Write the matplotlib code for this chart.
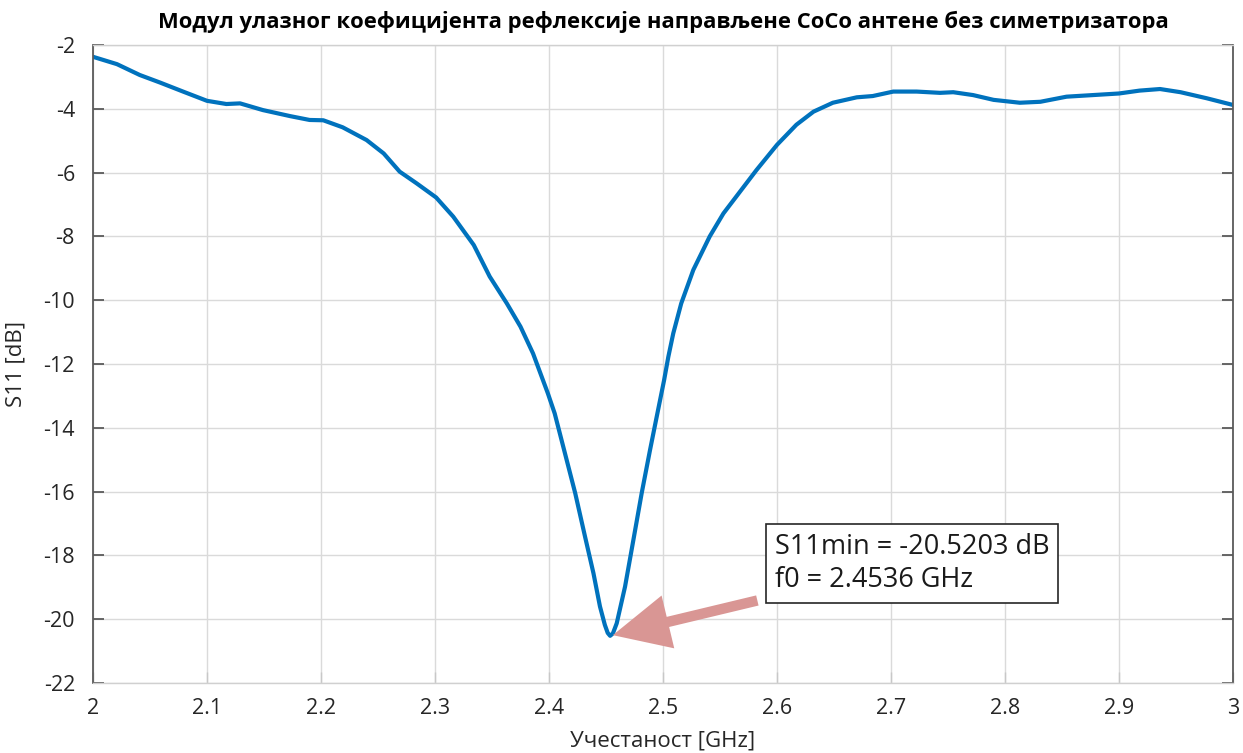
import matplotlib
matplotlib.use("Agg")
import matplotlib.pyplot as plt
import numpy as np

plt.rcParams['font.family'] = ['Open Sans', 'DejaVu Sans']
plt.rcParams['axes.unicode_minus'] = False

# measured S11 of the CoCo antenna (no balun)
freq = [2.000, 2.021, 2.041, 2.059, 2.079, 2.100, 2.117, 2.129, 2.149, 2.173,
        2.190, 2.202, 2.219, 2.240, 2.255, 2.269, 2.284, 2.301, 2.316, 2.334,
        2.348, 2.363, 2.375, 2.386, 2.399, 2.405, 2.414, 2.423, 2.4316, 2.439,
        2.4447, 2.449, 2.4515, 2.4536, 2.456, 2.4594, 2.4667, 2.474, 2.4813, 2.4886,
        2.4945, 2.501, 2.5047, 2.509, 2.516, 2.5266, 2.541, 2.553, 2.5675, 2.582,
        2.600, 2.617, 2.632, 2.649, 2.670, 2.684, 2.702, 2.7225, 2.743, 2.7546,
        2.772, 2.790, 2.813, 2.831, 2.854, 2.877, 2.900, 2.918, 2.936, 2.954,
        2.977, 3.000]
s11 = [-2.37, -2.60, -2.94, -3.18, -3.46, -3.75, -3.85, -3.83, -4.04, -4.23,
       -4.35, -4.36, -4.58, -4.98, -5.40, -5.97, -6.34, -6.78, -7.38, -8.27,
       -9.26, -10.10, -10.83, -11.67, -12.92, -13.55, -14.80, -16.05, -17.41, -18.56,
       -19.60, -20.18, -20.43, -20.5203, -20.45, -20.13, -18.98, -17.52, -16.05, -14.70,
       -13.65, -12.50, -11.77, -11.04, -10.10, -9.05, -8.00, -7.28, -6.60, -5.92,
       -5.13, -4.50, -4.09, -3.81, -3.64, -3.60, -3.46, -3.46, -3.50, -3.48,
       -3.57, -3.72, -3.81, -3.78, -3.62, -3.57, -3.52, -3.43, -3.38, -3.48,
       -3.67, -3.88]

xticks = [2, 2.1, 2.2, 2.3, 2.4, 2.5, 2.6, 2.7, 2.8, 2.9, 3]
xticklabels = ['2', '2.1', '2.2', '2.3', '2.4', '2.5', '2.6', '2.7', '2.8', '2.9', '3']
yticks = list(range(-22, -1, 2))

i_min = int(np.argmin(s11))
s11_min = s11[i_min]
f0 = freq[i_min]

fig = plt.figure(figsize=(12.43, 7.53), dpi=100)
ax = fig.add_axes([93 / 1243, 1 - 683 / 753, 1140 / 1243, 638 / 753])

ax.plot(freq, s11, color='#0072BD', lw=3.0, solid_capstyle='round',
        solid_joinstyle='round')

ax.set_xlim(2, 3)
ax.set_ylim(-22, -2)
ax.set_xticks(xticks)
ax.set_xticklabels(xticklabels)
ax.set_yticks(yticks)
ax.grid(True, color='#dadada', lw=1)
ax.set_axisbelow(True)

for side in ['left', 'right']:
    ax.spines[side].set_color('#5a5a5a')
    ax.spines[side].set_linewidth(1.3)
for side in ['top', 'bottom']:
    ax.spines[side].set_color('#d0d0d0')
    ax.spines[side].set_linewidth(1.0)

ax.tick_params(axis='y', direction='in', length=8, width=1.3, color='#5a5a5a',
               labelsize=15.5, labelcolor='#262626', right=True, pad=13)
ax.tick_params(axis='x', direction='in', length=8, width=1.0, color='#c8c8c8',
               labelsize=15.5, labelcolor='#262626', pad=11)

ax.set_xlabel('Учестаност [GHz]', fontsize=16, color='#262626', labelpad=8)
ax.set_ylabel('S11 [dB]', fontsize=16, color='#262626', labelpad=12)
ax.set_title('Модул улазног коефицијента рефлексије направљене CoCo антене без симетризатора',
             fontsize=15.8, fontweight='bold', pad=12)

ax.annotate('S11min = %.4f dB\nf0 = %.4f GHz' % (s11_min, f0),
            xy=(f0, s11_min), xytext=(2.598, -18.25),
            ha='left', va='center', fontsize=19.5, color='#1a1a1a', linespacing=1.25,
            bbox=dict(boxstyle='square,pad=0.32', fc='white', ec='#262626', lw=1.2),
            arrowprops=dict(arrowstyle='simple,head_length=1.2,head_width=1.15,tail_width=0.22',
                            mutation_scale=34, fc='#d99694', ec='none',
                            shrinkA=6, shrinkB=2))

fig.savefig('out.png', dpi=100)
